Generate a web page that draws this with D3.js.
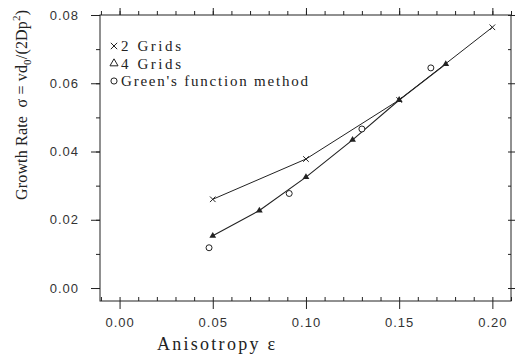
<!DOCTYPE html>
<html>
<head>
<meta charset="utf-8">
<script src="https://cdn.jsdelivr.net/npm/d3@7"></script>
<style>
  body { margin: 0; background: #fff; }
  svg { display: block; }
  .tick text { font-family: "Liberation Sans", Arial, sans-serif; font-size: 13px; letter-spacing: 1px; fill: #333; }
  .axis path, .axis line { stroke: #222; }
</style>
</head>
<body>
<svg id="chart" width="516" height="356"></svg>
<script>
// data
var grid2X = [0.05, 0.10, 0.15, 0.20];
var grid2Y = [0.0260, 0.0378, 0.0551, 0.0764];
var grid4X = [0.05, 0.075, 0.10, 0.125, 0.15, 0.175];
var grid4Y = [0.0153, 0.0227, 0.0325, 0.0434, 0.0551, 0.0656];
var greenX = [0.048, 0.091, 0.130, 0.167];
var greenY = [0.0118, 0.0277, 0.0466, 0.0645];
var xTicks = [0, 0.05, 0.10, 0.15, 0.20];
var yTicks = [0, 0.02, 0.04, 0.06, 0.08];
var legendLabels = ["2 Grids", "4 Grids", "Green's function method"];
var legendWidths = [60, 60, 187];

var svg = d3.select("#chart"),
    margin = {top: 15, right: 5, bottom: 55, left: 100},
    width = +svg.attr("width") - margin.left - margin.right,
    height = +svg.attr("height") - margin.top - margin.bottom,
    g = svg.append("g").attr("transform", "translate(" + margin.left + "," + margin.top + ")");

var x = d3.scaleLinear().domain([-0.0105, 0.21]).range([0, width]);
var y = d3.scaleLinear().domain([-0.0038, 0.08]).range([height, 0]);

var minorX = d3.range(-0.01, 0.2101, 0.01).filter(function (d) { return x(d) >= 0 && x(d) <= width; });
var minorY = d3.range(0, 0.0801, 0.01);

var serif = "'Liberation Serif', 'Times New Roman', serif";

// frame
g.append("rect")
    .attr("width", width)
    .attr("height", height)
    .attr("fill", "none")
    .attr("stroke", "#222")
    .attr("stroke-width", 1);

// bottom axis
g.append("g")
    .attr("class", "axis")
    .attr("transform", "translate(0," + height + ")")
    .call(d3.axisBottom(x).tickValues(xTicks).tickSize(8).tickPadding(9).tickFormat(d3.format(".2f")))
    .call(function (s) { s.select(".domain").remove(); });
g.append("g")
    .attr("class", "axis")
    .attr("transform", "translate(0," + height + ")")
    .call(d3.axisTop(x).tickValues(minorX).tickSize(4).tickFormat(""))
    .call(function (s) { s.select(".domain").remove(); });

// top axis
g.append("g")
    .attr("class", "axis")
    .call(d3.axisTop(x).tickValues(minorX).tickSize(4).tickFormat(""))
    .call(function (s) { s.select(".domain").remove(); });
g.append("g")
    .attr("class", "axis")
    .call(d3.axisTop(x).tickValues(xTicks).tickSize(7).tickFormat(""))
    .call(function (s) { s.select(".domain").remove(); });

// left axis
g.append("g")
    .attr("class", "axis")
    .call(d3.axisLeft(y).tickValues(yTicks).tickSize(9).tickPadding(12).tickFormat(d3.format(".2f")))
    .call(function (s) { s.select(".domain").remove(); });
g.append("g")
    .attr("class", "axis")
    .call(d3.axisLeft(y).tickValues(minorY).tickSize(4).tickFormat(""))
    .call(function (s) { s.select(".domain").remove(); });

// right axis
g.append("g")
    .attr("class", "axis")
    .attr("transform", "translate(" + width + ",0)")
    .call(d3.axisLeft(y).tickValues(minorY).tickSize(3).tickFormat(""))
    .call(function (s) { s.select(".domain").remove(); });
g.append("g")
    .attr("class", "axis")
    .attr("transform", "translate(" + width + ",0)")
    .call(d3.axisRight(y).tickValues(yTicks).tickSize(4).tickFormat(""))
    .call(function (s) { s.select(".domain").remove(); });

var line = d3.line()
    .x(function (d) { return x(d[0]); })
    .y(function (d) { return y(d[1]); });

var grid2 = d3.zip(grid2X, grid2Y),
    grid4 = d3.zip(grid4X, grid4Y),
    green = d3.zip(greenX, greenY);

g.append("path")
    .datum(grid2)
    .attr("fill", "none")
    .attr("stroke", "#222")
    .attr("stroke-width", 1)
    .attr("d", line);

g.append("path")
    .datum(grid4)
    .attr("fill", "none")
    .attr("stroke", "#222")
    .attr("stroke-width", 1.1)
    .attr("d", line);

var cross = d3.symbol().type(d3.symbolX).size(22),
    tri = d3.symbol().type(d3.symbolTriangle).size(20);

g.selectAll(".g2").data(grid2).enter().append("path")
    .attr("transform", function (d) { return "translate(" + x(d[0]) + "," + y(d[1]) + ")"; })
    .attr("d", cross)
    .attr("stroke", "#222")
    .attr("stroke-width", 1);

g.selectAll(".g4").data(grid4).enter().append("path")
    .attr("transform", function (d) { return "translate(" + x(d[0]) + "," + y(d[1]) + ")"; })
    .attr("d", tri)
    .attr("fill", "#222");

g.selectAll(".gr").data(green).enter().append("circle")
    .attr("cx", function (d) { return x(d[0]); })
    .attr("cy", function (d) { return y(d[1]); })
    .attr("r", 3)
    .attr("fill", "#fff")
    .attr("stroke", "#222")
    .attr("stroke-width", 1);

// legend
var legend = g.append("g")
    .attr("font-family", serif)
    .attr("font-size", 15)
    .attr("fill", "#222")
    .selectAll("g")
    .data(legendLabels)
    .enter().append("g")
    .attr("transform", function (d, i) { return "translate(14," + (31 + i * 17.5) + ")"; });

legend.append("path")
    .attr("d", function (d, i) {
        return d3.symbol().type([d3.symbolX, d3.symbolTriangle, d3.symbolCircle][i]).size(i === 2 ? 30 : 28)();
    })
    .attr("fill", "none")
    .attr("stroke", "#222")
    .attr("stroke-width", 1);

legend.append("text")
    .attr("x", 7)
    .attr("dy", "0.35em")
    .attr("textLength", function (d, i) { return legendWidths[i]; })
    .text(function (d) { return d; });

// axis titles
svg.append("text")
    .attr("x", 157)
    .attr("y", 350)
    .attr("font-family", serif)
    .attr("font-size", 18)
    .attr("fill", "#222")
    .attr("textLength", 118)
    .text("Anisotropy ε");

svg.append("text")
    .attr("transform", "translate(27,200) rotate(-90)")
    .attr("font-family", serif)
    .attr("font-size", 16)
    .attr("fill", "#222")
    .attr("textLength", 190)
    .attr("lengthAdjust", "spacing")
    .html("Growth Rate&#160;&#160;σ = vd<tspan font-size='11' dy='4'>0</tspan><tspan dy='-4'>/(2Dp</tspan><tspan font-size='11' dy='-7'>2</tspan><tspan dy='7'>)</tspan>");
</script>
</body>
</html>
